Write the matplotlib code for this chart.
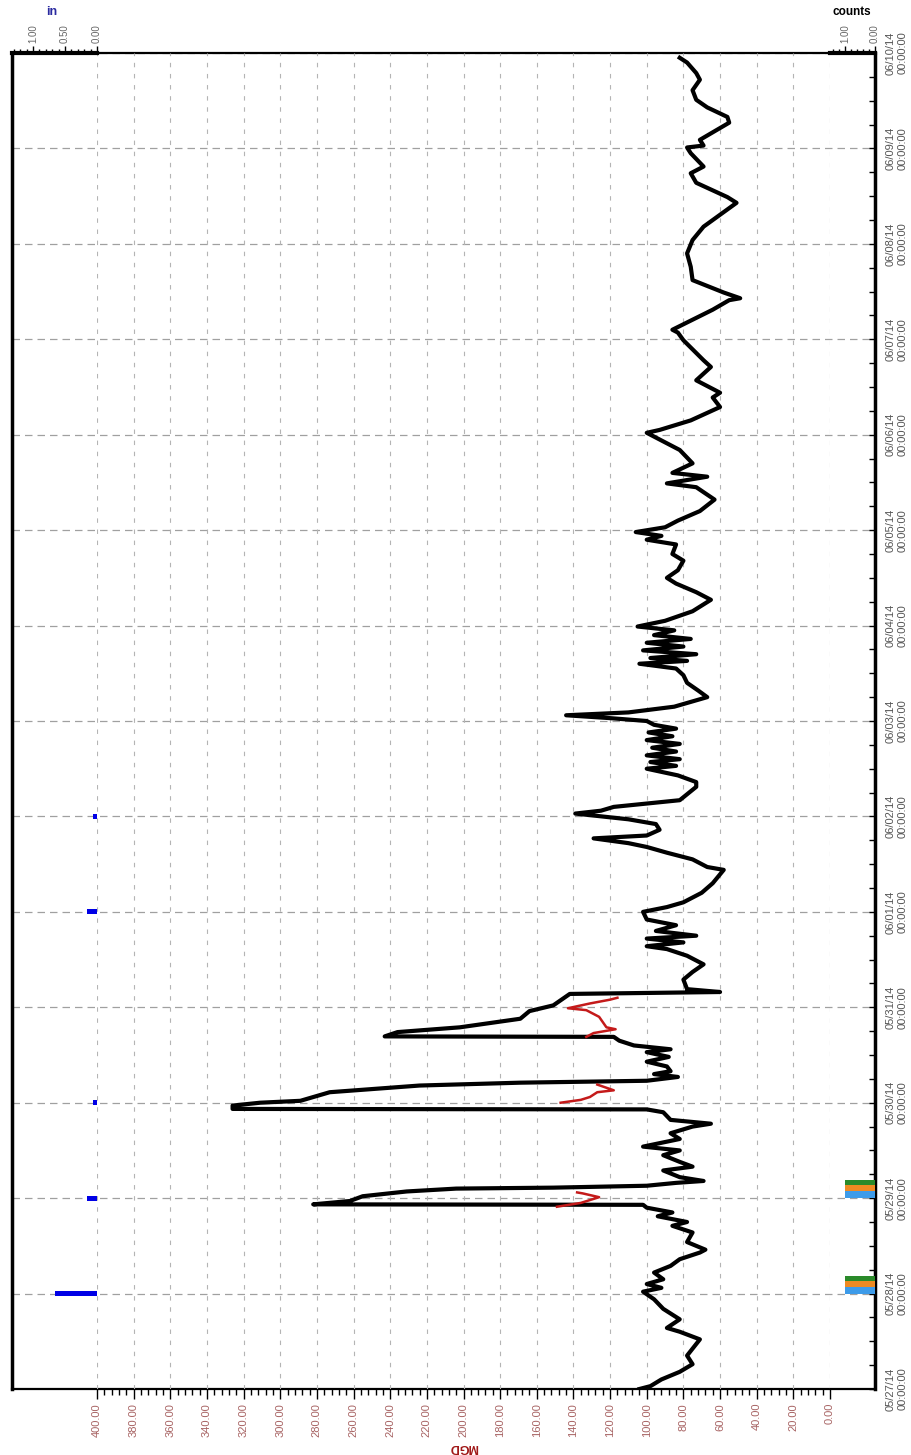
import numpy as np
import matplotlib.pyplot as plt
from matplotlib.ticker import MultipleLocator

# flow in MGD against days since 05/27/14 00:00
flow_day = [0.00, 0.03, 0.10, 0.18, 0.26, 0.35, 0.52, 0.60, 0.64, 0.73, 0.84, 0.94,
            1.02, 1.06, 1.10, 1.15, 1.22, 1.29, 1.36, 1.43, 1.46, 1.54, 1.64, 1.71,
            1.75, 1.81, 1.85, 1.90, 1.93, 1.935, 1.97, 2.02, 2.07, 2.10, 2.11, 2.13,
            2.16, 2.18, 2.22, 2.29, 2.33, 2.38, 2.45, 2.50, 2.54, 2.62, 2.68, 2.75,
            2.78, 2.82, 2.90, 2.93, 2.935, 2.97, 3.00, 3.02, 3.11, 3.18, 3.21, 3.23,
            3.27, 3.30, 3.33, 3.38, 3.43, 3.48, 3.53, 3.56, 3.60, 3.65, 3.69, 3.695,
            3.74, 3.79, 3.88, 3.96, 4.02, 4.14, 4.16, 4.19, 4.29, 4.37, 4.45, 4.54,
            4.61, 4.64, 4.68, 4.72, 4.75, 4.80, 4.86, 4.92, 5.00, 5.05, 5.10, 5.20,
            5.30, 5.44, 5.47, 5.55, 5.62, 5.68, 5.72, 5.77, 5.80, 5.86, 5.92, 5.97,
            6.03, 6.06, 6.10, 6.17, 6.31, 6.36, 6.43, 6.50, 6.53, 6.57, 6.60, 6.64,
            6.68, 6.72, 6.76, 6.80, 6.84, 6.88, 6.92, 6.96, 7.00, 7.03, 7.06, 7.09,
            7.15, 7.25, 7.32, 7.40, 7.48, 7.55, 7.60, 7.63, 7.66, 7.70, 7.74, 7.78,
            7.82, 7.86, 7.90, 7.95, 7.99, 8.05, 8.15, 8.27, 8.35, 8.44, 8.50, 8.58,
            8.68, 8.75, 8.85, 8.90, 8.94, 8.98, 9.03, 9.10, 9.20, 9.32, 9.45, 9.49,
            9.56, 9.60, 9.70, 9.84, 10.02, 10.05, 10.15, 10.29, 10.39, 10.44, 10.57, 10.71,
            10.78, 10.99, 11.07, 11.10, 11.31, 11.41, 11.43, 11.49, 11.62, 11.76, 11.90, 12.04,
            12.18, 12.43, 12.49, 12.64, 12.74, 12.81, 12.95, 13.01, 13.03, 13.09, 13.27, 13.33,
            13.43, 13.51, 13.61, 13.72, 13.79, 13.90, 13.95]
flow_mgd = [104, 98, 92, 82, 75, 78, 71, 82, 89, 82, 91, 96,
            102, 92, 100, 91, 96, 87, 82, 71, 68, 78, 75, 86,
            78, 94, 86, 100, 102, 282, 262, 255, 231, 204, 151, 100,
            84, 69, 82, 91, 75, 82, 91, 82, 102, 82, 87, 75,
            65, 87, 91, 100, 326, 326, 311, 289, 273, 224, 169, 100,
            83, 96, 87, 89, 100, 88, 100, 87, 107, 115, 118, 243,
            236, 202, 169, 164, 151, 142, 60, 78, 80, 75, 69, 78,
            89, 100, 80, 100, 73, 95, 84, 100, 102, 89, 80, 70,
            64, 58, 67, 75, 89, 100, 110, 129, 100, 93, 95, 110,
            139, 125, 118, 82, 73, 73, 83, 100, 84, 98, 82, 100,
            84, 97, 82, 100, 86, 99, 84, 96, 100, 120, 144, 110,
            85, 67, 72, 78, 80, 84, 104, 78, 98, 73, 102, 80,
            100, 76, 96, 85, 105, 90, 75, 65, 73, 84, 89, 83,
            80, 86, 84, 100, 92, 106, 90, 83, 71, 63, 73, 89,
            67, 86, 75, 82, 100, 93, 76, 60, 64, 60, 73, 65,
            69, 80, 83, 86, 64, 55, 49, 58, 75, 76, 78, 75,
            69, 51, 56, 73, 76, 69, 76, 78, 69, 71, 55, 56,
            67, 73, 75, 71, 73, 78, 82]

# red series shown during the three peaks (gaps between them)
red_day = [1.91, 1.95, 2.01, 2.05, 2.06, np.nan,
           3.00, 3.03, 3.06, 3.11, 3.13, 3.19, np.nan,
           3.69, 3.73, 3.77, 3.79, 3.90, 3.97, 3.99, 4.04, 4.08, 4.10]
red_mgd = [149, 136, 126, 135, 138, np.nan,
           147, 136, 131, 127, 118, 127, np.nan,
           133, 129, 117, 122, 126, 133, 143, 131, 120, 116]

# rainfall (in)
rain_day = [1, 2, 3, 5, 6]
rain_in = [0.66, 0.15, 0.07, 0.15, 0.06]

# counts
count_day = [1, 2]
count_blue = [1, 1]
count_orange = [1, 1]
count_green = [1, 1]

date_labels = ['05/27/14', '05/28/14', '05/29/14', '05/30/14', '05/31/14',
               '06/01/14', '06/02/14', '06/03/14', '06/04/14', '06/05/14',
               '06/06/14', '06/07/14', '06/08/14', '06/09/14', '06/10/14']
mgd_ticks = list(range(0, 401, 20))

W, H = 911, 1455


def box(x0, y0, x1, y1):
    return [x0 / W, 1 - y1 / H, (x1 - x0) / W, (y1 - y0) / H]


plt.rcParams['font.family'] = ['Liberation Sans', 'DejaVu Sans']
fig = plt.figure(figsize=(W / 100, H / 100), dpi=100)

# outer frame: day grid and date labels on the right
frame = fig.add_axes(box(12, 53, 875, 1389))
frame.set_xlim(0, 1)
frame.set_ylim(0, 14)
frame.set_xticks([])
frame.yaxis.tick_right()
frame.set_yticks(range(len(date_labels)))
frame.set_yticklabels([d + '\n00:00:00' for d in date_labels], rotation=90,
                      fontsize=8, color='#555555', va='center', ha='left',
                      multialignment='center')
frame.yaxis.set_minor_locator(MultipleLocator(0.25))
frame.tick_params(axis='y', which='both', direction='in', length=4, width=1,
                  left=False, right=True, pad=8)
frame.grid(axis='y', which='major', color='#a0a0a0', ls=(0, (6, 4)), lw=0.9)
frame.spines['left'].set_linewidth(2.5)
frame.spines['right'].set_linewidth(2.5)
frame.spines['top'].set_linewidth(1.6)
frame.spines['bottom'].set_linewidth(1.6)

# MGD axis
ax = fig.add_axes(box(97, 53, 830, 1389))
ax.patch.set_visible(False)
for s in ax.spines.values():
    s.set_visible(False)
ax.set_xlim(400, 0)
ax.set_ylim(0, 14)
ax.set_yticks([])
ax.set_xticks(mgd_ticks)
ax.set_xticklabels(['{:.2f}'.format(v) for v in mgd_ticks], rotation=90,
                   fontsize=8, color='#a86464')
ax.xaxis.set_minor_locator(MultipleLocator(4))
ax.tick_params(axis='x', which='major', direction='out', length=7, width=1, pad=3)
ax.tick_params(axis='x', which='minor', direction='out', length=4, width=1)
ax.grid(axis='x', which='major', color='#b4b4b4', ls=(0, (4, 6)), lw=0.8)

ax.plot(flow_mgd, flow_day, color='black', lw=3)
ax.plot(red_mgd, red_day, color='#c41a1a', lw=1.8)

fig.text(463 / W, 1 - 1447 / H, 'MGD', rotation=180, color='#a01818',
         fontweight='bold', fontsize=9, ha='center', va='center')

# rain axis (top left)
rax = fig.add_axes(box(12, 53, 97, 1389))
rax.patch.set_visible(False)
for k, s in rax.spines.items():
    s.set_visible(k == 'top')
rax.spines['top'].set_linewidth(3)
rax.set_xlim(85 / 64, 0)
rax.set_ylim(0, 14)
rax.set_yticks([])
rax.xaxis.tick_top()
rax.set_xticks([0, 0.5, 1.0])
rax.set_xticklabels(['0.00', '0.50', '1.00'], rotation=90, fontsize=7, color='#666666')
rax.xaxis.set_minor_locator(MultipleLocator(0.1))
rax.tick_params(axis='x', which='major', direction='out', length=5, width=1, pad=2)
rax.tick_params(axis='x', which='minor', direction='out', length=3, width=1)
rax.barh(rain_day, rain_in, height=0.055, color='#0000e6')
fig.text(52 / W, 1 - 12 / H, 'in', color='#2a2aa0', fontweight='bold',
         fontsize=9, ha='center', va='center')

# counts axis (top right)
cax = fig.add_axes(box(830, 53, 875, 1389))
cax.patch.set_visible(False)
for k, s in cax.spines.items():
    s.set_visible(k == 'top')
cax.spines['top'].set_linewidth(3)
cax.set_xlim(1.5, 0)
cax.set_ylim(0, 14)
cax.set_yticks([])
cax.xaxis.tick_top()
cax.set_xticks([0, 1.0])
cax.set_xticklabels(['0.00', '1.00'], rotation=90, fontsize=7, color='#666666')
cax.xaxis.set_minor_locator(MultipleLocator(0.2))
cax.tick_params(axis='x', which='major', direction='out', length=5, width=1, pad=2)
cax.tick_params(axis='x', which='minor', direction='out', length=3, width=1)
cd = np.array(count_day, dtype=float)
cax.barh(cd, count_blue, height=0.07, align='edge', color='#3d9be9')
cax.barh(cd + 0.07, count_orange, height=0.065, align='edge', color='#ee8a22')
cax.barh(cd + 0.135, count_green, height=0.05, align='edge', color='#2a8a2a')
fig.text(852 / W, 1 - 12 / H, 'counts', color='black', fontweight='bold',
         fontsize=8.5, ha='center', va='center')

fig.savefig('out.png', dpi=100)
